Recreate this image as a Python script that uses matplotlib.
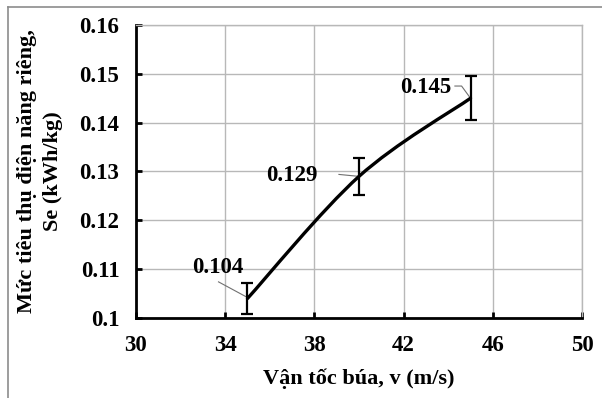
import numpy as np
from matplotlib import pyplot as plt
from matplotlib.path import Path
from matplotlib.patches import PathPatch
from matplotlib.lines import Line2D
from matplotlib.ticker import FuncFormatter

# du lieu doc tu hinh
van_toc = [35, 40, 45]
se = [0.104, 0.129, 0.145]
sai_so = [0.0032, 0.0038, 0.0045]
nhan = ['0.104', '0.129', '0.145']
vi_tri_nhan = [(33.68, 0.1103), (36.97, 0.1291), (43.0, 0.1472)]
xticks = [30, 34, 38, 42, 46, 50]
yticks = [0.1, 0.11, 0.12, 0.13, 0.14, 0.15, 0.16]

plt.rcParams['font.family'] = ['Liberation Serif', 'DejaVu Serif']
plt.rcParams['font.weight'] = 'bold'

fig = plt.figure(figsize=(6.02, 3.98), dpi=100)
ax = fig.add_axes([0.2259, 0.201, 0.7409, 0.7362])

ax.set_xlim(30, 50)
ax.set_ylim(0.1, 0.16)
ax.set_xticks(xticks)
ax.set_yticks(yticks)
ax.yaxis.set_major_formatter(FuncFormatter(lambda v, p: f'{v:g}'))
ax.grid(True, color='#b8b8b8', linewidth=1.0)
ax.set_axisbelow(True)

for s in ['top', 'right']:
    ax.spines[s].set_color('#b8b8b8')
    ax.spines[s].set_linewidth(1.0)
for s in ['left', 'bottom']:
    ax.spines[s].set_color('black')
    ax.spines[s].set_linewidth(2.0)
ax.tick_params(direction='in', length=4, width=2, pad=12, labelsize=16.5)

# duong cong tron kieu Excel (Bezier qua cac diem)
P = np.column_stack([van_toc, se])
verts = [P[0]]
codes = [Path.MOVETO]
for i in range(len(P) - 1):
    p_prev = P[i - 1] if i > 0 else P[i]
    p_next = P[i + 2] if i + 2 < len(P) else P[i + 1]
    c1 = P[i] + (P[i + 1] - p_prev) / 6
    c2 = P[i + 1] - (p_next - P[i]) / 6
    verts += [c1, c2, P[i + 1]]
    codes += [Path.CURVE4] * 3
ax.add_patch(PathPatch(Path(verts, codes), facecolor='none', edgecolor='black',
                       linewidth=2.4, capstyle='round', zorder=3))

ax.errorbar(van_toc, se, yerr=sai_so, fmt='none', ecolor='black',
            elinewidth=1.6, capsize=4, capthick=1.6, zorder=4)

for (tx, ty), t, x, y in zip(vi_tri_nhan, nhan, van_toc, se):
    ax.text(tx, ty, t, ha='center', va='center', fontsize=16.5, fontweight='bold')

# duong dan cua nhan
ax.plot([33.7, 35], [0.1074, 0.1042], color='#707070', lw=0.8, zorder=2)
ax.plot([39.1, 40], [0.1294, 0.1290], color='#707070', lw=0.8, zorder=2)
ax.plot([44.3, 44.6, 45], [0.1475, 0.1475, 0.1450], color='#707070', lw=0.8, zorder=2)

ax.set_xlabel('Vận tốc búa, v (m/s)', fontsize=16, fontweight='bold', labelpad=9)
ax.set_ylabel('Mức tiêu thụ điện năng riêng,\nSe (kWh/kg)', fontsize=16,
              fontweight='bold', labelpad=12, linespacing=1.4)

# khung ngoai
fig.add_artist(Line2D([8 / 602, 1], [1 - 7 / 398, 1 - 7 / 398], color='#8c8c8c', lw=1.2))
fig.add_artist(Line2D([8 / 602, 8 / 602], [0, 1 - 7 / 398], color='#8c8c8c', lw=1.2))

fig.savefig('out.png', dpi=100)
